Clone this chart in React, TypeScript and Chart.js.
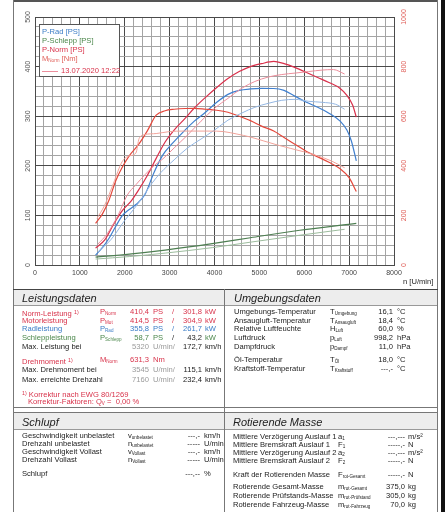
import React, { useEffect, useRef } from "react";
import { Chart, registerables } from "chart.js";

Chart.register(...registerables);

// ---------------- chart data ----------------
const rpmPNormA = [1350, 1550, 1750, 1950, 2150, 2300, 2500, 2700, 2900, 3100, 3350, 3545, 3800, 4050, 4300, 4550, 4800, 5050, 5320, 5550, 5800, 6050, 6300, 6550, 6800, 6950, 7080, 7160];
const psPNormA = [34, 50, 82, 110, 130, 150, 180, 215, 248, 272, 296, 316, 338, 358, 376, 390, 400, 406, 410.4, 406, 398, 388, 378, 368, 356, 342, 322, 298];

const rpmPNormB = [1400, 1600, 1850, 2050, 2250, 2450, 2650, 2850, 3100, 3400, 3700, 4000, 4300, 4600, 4900, 5200, 5500, 5800, 6100, 6400, 6650, 6900];
const psPNormB = [42, 62, 100, 140, 162, 182, 200, 214, 236, 262, 290, 316, 336, 356, 370, 379, 384, 387, 390, 393, 394, 385];

const rpmTorqueA = [1350, 1500, 1650, 1800, 1950, 2100, 2300, 2500, 2700, 2900, 3100, 3350, 3545, 3800, 4050, 4300, 4550, 4800, 5050, 5320, 5550, 5800, 6050, 6300, 6550, 6800, 7000, 7160];
const nmTorqueA = [168, 205, 262, 340, 396, 440, 484, 540, 604, 622, 628, 631, 631.3, 628, 624, 616, 600, 582, 560, 540, 514, 486, 458, 436, 414, 388, 352, 296];

const rpmTorqueB = [1380, 1550, 1750, 1940, 2100, 2250, 2320, 2450, 2700, 3000, 3300, 3600, 3900, 4200, 4500, 4800, 5100, 5400, 5700, 6000, 6300, 6600, 6900];
const nmTorqueB = [188, 240, 330, 416, 440, 452, 510, 526, 530, 538, 540, 540, 540, 538, 528, 516, 500, 484, 470, 456, 440, 420, 392];

const rpmPRadA = [1350, 1500, 1650, 1800, 1950, 2100, 2250, 2450, 2650, 2850, 3050, 3300, 3550, 3800, 4050, 4300, 4550, 4800, 5050, 5320, 5550, 5800, 6050, 6300, 6550, 6800, 6950, 7050, 7160];
const psPRadA = [20, 35, 54, 78, 100, 112, 122, 142, 186, 222, 244, 268, 290, 308, 328, 344, 352, 355, 356, 355.8, 352, 340, 328, 318, 306, 290, 272, 250, 210];

const rpmPRadB = [1400, 1700, 2000, 2300, 2600, 2800, 3100, 3400, 3700, 4000, 4300, 4600, 4900, 5200, 5500, 5800, 6100, 6400, 6700, 6900];
const psPRadB = [26, 52, 90, 124, 164, 186, 212, 236, 254, 272, 292, 306, 318, 326, 332, 334, 330, 328, 324, 314];

const rpmSchleppA = [1350, 2100, 2900, 3950, 4800, 5900, 7160];
const psSchleppA = [16, 22, 30, 43, 55, 70, 84];

const rpmSchleppB = [1350, 2100, 2900, 3950, 4800, 5900, 6900];
const psSchleppB = [12, 17, 24, 35, 46, 60, 72];

const xTickLabels = [0, 1000, 2000, 3000, 4000, 5000, 6000, 7000, 8000];
const yLeftTickLabels = [0, 100, 200, 300, 400, 500];
const yRightTickLabels = [0, 200, 400, 600, 800, 1000];
const X_MINOR_STEP = 200;
const Y_MINOR_STEP = 20;

// ---------------- colours ----------------
const C_RED = "#d9304b";
const C_RED_L = "#ec8e9c";
const C_TQ = "#e4483c";
const C_TQ_L = "#f1a39a";
const C_BLUE = "#3f7fcf";
const C_BLUE_L = "#94b7e3";
const C_GREEN = "#4e7f52";
const C_GREEN_L = "#9cbc9d";
const GRID_MAJOR = "#4a4a4a";
const GRID_MINOR = "#a4a4a4";
const FONT = "'Liberation Sans', Arial, sans-serif";

function DynoChart() {
  const ref = useRef<HTMLCanvasElement>(null);
  useEffect(() => {
    const pts = (xs: number[], ys: number[]) => xs.map((x, i) => ({ x, y: ys[i] }));
    const ds = (label: string, xs: number[], ys: number[], color: string, width: number, axis = "y") => ({
      label,
      data: pts(xs, ys),
      borderColor: color,
      backgroundColor: color,
      borderWidth: width,
      pointRadius: 0,
      cubicInterpolationMode: "monotone" as const,
      yAxisID: axis,
      fill: false,
    });
    const tickFont = { family: FONT, size: 7 };
    const chart = new Chart(ref.current!, {
      type: "line",
      data: {
        datasets: [
          ds("P-Schlepp B", rpmSchleppB, psSchleppB, C_GREEN_L, 1),
          ds("P-Schlepp A", rpmSchleppA, psSchleppA, C_GREEN, 1.2),
          ds("M-Norm B", rpmTorqueB, nmTorqueB, C_TQ_L, 1, "y2"),
          ds("P-Rad B", rpmPRadB, psPRadB, C_BLUE_L, 1),
          ds("P-Norm B", rpmPNormB, psPNormB, C_RED_L, 1),
          ds("M-Norm A", rpmTorqueA, nmTorqueA, C_TQ, 1.2, "y2"),
          ds("P-Rad A", rpmPRadA, psPRadA, C_BLUE, 1.2),
          ds("P-Norm A", rpmPNormA, psPNormA, C_RED, 1.2),
        ],
      },
      options: {
        animation: false,
        responsive: false,
        maintainAspectRatio: false,
        events: [],
        layout: { padding: { top: 17, left: 0, right: 0, bottom: 0 } },
        plugins: { legend: { display: false }, tooltip: { enabled: false } },
        scales: {
          x: {
            type: "linear",
            min: 0,
            max: 8000,
            ticks: {
              stepSize: X_MINOR_STEP,
              autoSkip: false,
              minRotation: 0,
              maxRotation: 0,
              padding: 4,
              color: "#444",
              font: tickFont,
              callback: (v: any) => (xTickLabels.includes(Number(v)) ? String(v) : ""),
            },
            grid: {
              drawTicks: false,
              lineWidth: 1,
              color: (c: any) => (c.tick && xTickLabels.includes(c.tick.value) ? GRID_MAJOR : GRID_MINOR),
            },
            border: { display: true, color: GRID_MAJOR },
            afterFit: (s: any) => {
              s.height = 24;
            },
          },
          y: {
            type: "linear",
            position: "left",
            min: 0,
            max: 500,
            ticks: {
              stepSize: Y_MINOR_STEP,
              autoSkip: false,
              minRotation: 90,
              maxRotation: 90,
              crossAlign: "center",
              padding: 1,
              color: "#555",
              font: tickFont,
              callback: (v: any) => (yLeftTickLabels.includes(Number(v)) ? String(v) : ""),
            },
            grid: {
              drawTicks: false,
              lineWidth: 1,
              color: (c: any) => (c.tick && yLeftTickLabels.includes(c.tick.value) ? GRID_MAJOR : GRID_MINOR),
            },
            border: { display: true, color: GRID_MAJOR },
            afterFit: (s: any) => {
              s.width = 21;
            },
          },
          y2: {
            type: "linear",
            position: "right",
            min: 0,
            max: 1000,
            ticks: {
              stepSize: 200,
              autoSkip: false,
              minRotation: 90,
              maxRotation: 90,
              crossAlign: "center",
              padding: 2,
              color: "#e0605a",
              font: tickFont,
              callback: (v: any) => (yRightTickLabels.includes(Number(v)) ? String(v) : ""),
            },
            grid: { display: false, drawTicks: false },
            border: { display: false },
            afterFit: (s: any) => {
              s.width = 44;
            },
          },
        },
      } as any,
    });
    return () => chart.destroy();
  }, []);
  return (
    <canvas
      ref={ref}
      width={424}
      height={289}
      style={{ position: "absolute", left: 14, top: 0, width: 424, height: 289 }}
    />
  );
}

// ---------------- helpers for text ----------------
type TP = {
  x: number;
  y: number;
  children: any;
  color?: string;
  size?: number;
  align?: "left" | "right";
  italic?: boolean;
};
function T({ x, y, children, color = "#222", size = 7.6, align = "left", italic = false }: TP) {
  const st: any = {
    position: "absolute",
    top: y - size * 0.62,
    fontSize: size,
    lineHeight: `${Math.round(size * 1.25)}px`,
    color,
    whiteSpace: "nowrap",
    fontStyle: italic ? "italic" : "normal",
  };
  if (align === "left") st.left = x;
  else st.right = 445 - x;
  return <div style={st}>{children}</div>;
}
const Sub = ({ s }: { s: string }) => (
  <span style={{ fontSize: "0.6em", verticalAlign: "-0.3em" }}>{s}</span>
);
const Sup = ({ s }: { s: string }) => (
  <span style={{ fontSize: "0.7em", verticalAlign: "0.35em" }}>{s}</span>
);
const Sym = ({ m, s }: { m: string; s: string }) => (
  <span>
    {m}
    <Sub s={s} />
  </span>
);
function Line({ x, y, w, h, c = "#666" }: { x: number; y: number; w: number; h: number; c?: string }) {
  return <div style={{ position: "absolute", left: x, top: y, width: w, height: h, background: c }} />;
}

const RED = "#d8324a";
const BLUE = "#3a7cc6";
const GREEN = "#4b874b";
const GRAY = "#9a9a9a";
const BLK = "#222";

export default function App() {
  const L = { lab: 22, sym: 100, v1: 149, u1: 153, sl: 172, v2: 202, u2: 205 };
  const lRows = [312, 320.5, 329, 337.5, 346.5, 359.5, 369.5, 379.5];
  const U = { lab: 234, sym: 330, v: 393, u: 397 };
  const uRows = [312, 320.5, 329, 338, 347, 359.5, 368.5];
  const S = { lab: 22, sym: 128, v: 200, u: 204 };
  const sRows = [436, 444, 452, 460, 474];
  const R = { lab: 233, sym: 338, v: 405, u: 408 };
  const rRows = [437, 445, 453, 461, 475, 487, 496, 505];
  return (
    <div
      style={{
        position: "absolute",
        left: 0,
        top: 0,
        width: 445,
        height: 512,
        background: "#fff",
        overflow: "hidden",
        fontFamily: FONT,
      }}
    >
      <DynoChart />

      {/* legend */}
      <div
        style={{
          position: "absolute",
          left: 39,
          top: 24,
          width: 79,
          height: 51,
          background: "#fff",
          border: "1px solid #555",
        }}
      />
      <T x={42} y={32} color={BLUE}>P-Rad [PS]</T>
      <T x={42} y={41} color={GREEN}>P-Schlepp [PS]</T>
      <T x={42} y={50} color={RED}>P-Norm [PS]</T>
      <T x={42} y={59} color="#e0605a">
        M<Sub s="Norm" /> [Nm]
      </T>
      <Line x={42} y={71} w={16} h={1} c={C_RED_L} />
      <T x={61} y={71} color={RED}>13.07.2020 12:22</T>
      <T x={403} y={282}>n [U/min]</T>

      {/* frame */}
      <Line x={13} y={0} w={425} h={2} c="#555" />
      <Line x={13} y={0} w={1} h={512} c="#777" />
      <Line x={437} y={0} w={1} h={512} c="#777" />
      <Line x={441} y={0} w={4} h={512} c="#111" />
      <Line x={13} y={289} w={425} h={1} c="#444" />

      {/* header bands */}
      <Line x={14} y={290} w={210} h={15} c="#ededed" />
      <Line x={225} y={290} w={212} h={15} c="#ededed" />
      <Line x={14} y={305} w={210} h={1} c="#999" />
      <Line x={225} y={305} w={212} h={1} c="#999" />
      <Line x={224} y={289} w={1} h={223} c="#777" />
      <Line x={13} y={407} w={425} h={1} c="#777" />
      <Line x={14} y={413} w={210} h={16} c="#ededed" />
      <Line x={225} y={413} w={212} h={16} c="#ededed" />
      <Line x={13} y={412} w={425} h={1} c="#777" />
      <Line x={14} y={429} w={210} h={1} c="#999" />
      <Line x={225} y={429} w={212} h={1} c="#999" />

      {/* Leistungsdaten */}
      <T x={22} y={298} size={11} italic>Leistungsdaten</T>
      <T x={L.lab} y={lRows[0]} color={RED}>Norm-Leistung <Sup s="1)" /></T>
      <T x={L.sym} y={lRows[0]} color={RED}><Sym m="P" s="Norm" /></T>
      <T x={L.v1} y={lRows[0]} color={RED} align="right">410,4</T>
      <T x={L.u1} y={lRows[0]} color={RED}>PS</T>
      <T x={L.sl} y={lRows[0]} color={RED}>/</T>
      <T x={L.v2} y={lRows[0]} color={RED} align="right">301,8</T>
      <T x={L.u2} y={lRows[0]} color={RED}>kW</T>

      <T x={L.lab} y={lRows[1]} color={RED}>Motorleistung</T>
      <T x={L.sym} y={lRows[1]} color={RED}><Sym m="P" s="Mot" /></T>
      <T x={L.v1} y={lRows[1]} color={RED} align="right">414,5</T>
      <T x={L.u1} y={lRows[1]} color={RED}>PS</T>
      <T x={L.sl} y={lRows[1]} color={RED}>/</T>
      <T x={L.v2} y={lRows[1]} color={RED} align="right">304,9</T>
      <T x={L.u2} y={lRows[1]} color={RED}>kW</T>

      <T x={L.lab} y={lRows[2]} color={BLUE}>Radleistung</T>
      <T x={L.sym} y={lRows[2]} color={BLUE}><Sym m="P" s="Rad" /></T>
      <T x={L.v1} y={lRows[2]} color={BLUE} align="right">355,8</T>
      <T x={L.u1} y={lRows[2]} color={BLUE}>PS</T>
      <T x={L.sl} y={lRows[2]} color={BLUE}>/</T>
      <T x={L.v2} y={lRows[2]} color={BLUE} align="right">261,7</T>
      <T x={L.u2} y={lRows[2]} color={BLUE}>kW</T>

      <T x={L.lab} y={lRows[3]} color={GREEN}>Schleppleistung</T>
      <T x={L.sym} y={lRows[3]} color={GREEN}><Sym m="P" s="Schlepp" /></T>
      <T x={L.v1} y={lRows[3]} color={GREEN} align="right">58,7</T>
      <T x={L.u1} y={lRows[3]} color={GREEN}>PS</T>
      <T x={L.sl} y={lRows[3]} color={BLK}>/</T>
      <T x={L.v2} y={lRows[3]} color={BLK} align="right">43,2</T>
      <T x={L.u2} y={lRows[3]} color={GREEN}>kW</T>

      <T x={L.lab} y={lRows[4]} color={BLK}>Max. Leistung bei</T>
      <T x={L.v1} y={lRows[4]} color={GRAY} align="right">5320</T>
      <T x={L.u1} y={lRows[4]} color={GRAY}>U/min/</T>
      <T x={L.v2} y={lRows[4]} color={BLK} align="right">172,7</T>
      <T x={L.u2} y={lRows[4]} color={BLK}>km/h</T>

      <T x={L.lab} y={lRows[5]} color={RED}>Drehmoment <Sup s="1)" /></T>
      <T x={L.sym} y={lRows[5]} color={RED}><Sym m="M" s="Norm" /></T>
      <T x={L.v1} y={lRows[5]} color={RED} align="right">631,3</T>
      <T x={L.u1} y={lRows[5]} color={RED}>Nm</T>

      <T x={L.lab} y={lRows[6]} color={BLK}>Max. Drehmoment bei</T>
      <T x={L.v1} y={lRows[6]} color={GRAY} align="right">3545</T>
      <T x={L.u1} y={lRows[6]} color={GRAY}>U/min/</T>
      <T x={L.v2} y={lRows[6]} color={BLK} align="right">115,1</T>
      <T x={L.u2} y={lRows[6]} color={BLK}>km/h</T>

      <T x={L.lab} y={lRows[7]} color={BLK}>Max. erreichte Drehzahl</T>
      <T x={L.v1} y={lRows[7]} color={GRAY} align="right">7160</T>
      <T x={L.u1} y={lRows[7]} color={GRAY}>U/min/</T>
      <T x={L.v2} y={lRows[7]} color={BLK} align="right">232,4</T>
      <T x={L.u2} y={lRows[7]} color={BLK}>km/h</T>

      <T x={22} y={393} color={RED}><Sup s="1)" /> Korrektur nach EWG 80/1269</T>
      <T x={28} y={401.5} color={RED}>Korrektur-Faktoren: Q<Sub s="V" /> =&nbsp; 0,00 %</T>

      {/* Umgebungsdaten */}
      <T x={234} y={298} size={11} italic>Umgebungsdaten</T>
      {[
        ["Umgebungs-Temperatur", "T", "Umgebung", "16,1", "°C"],
        ["Ansaugluft-Temperatur", "T", "Ansaugluft", "18,4", "°C"],
        ["Relative Luftfeuchte", "H", "Luft", "60,0", "%"],
        ["Luftdruck", "p", "Luft", "998,2", "hPa"],
        ["Dampfdruck", "p", "Dampf", "11,0", "hPa"],
        ["Öl-Temperatur", "T", "Öl", "18,0", "°C"],
        ["Kraftstoff-Temperatur", "T", "Kraftstoff", "---,-", "°C"],
      ].map((r, i) => (
        <React.Fragment key={"u" + i}>
          <T x={U.lab} y={uRows[i]}>{r[0]}</T>
          <T x={U.sym} y={uRows[i]}><Sym m={r[1]} s={r[2]} /></T>
          <T x={U.v} y={uRows[i]} align="right">{r[3]}</T>
          <T x={U.u} y={uRows[i]}>{r[4]}</T>
        </React.Fragment>
      ))}

      {/* Schlupf */}
      <T x={22} y={422} size={11} italic>Schlupf</T>
      {[
        ["Geschwindigkeit unbelastet", "v", "unbelastet", "---,-", "km/h"],
        ["Drehzahl unbelastet", "n", "unbelastet", "-----", "U/min"],
        ["Geschwindigkeit Vollast", "v", "Vollast", "---,-", "km/h"],
        ["Drehzahl Vollast", "n", "Vollast", "-----", "U/min"],
        ["Schlupf", "", "", "---,--", "%"],
      ].map((r, i) => (
        <React.Fragment key={"s" + i}>
          <T x={S.lab} y={sRows[i]}>{r[0]}</T>
          {r[1] ? <T x={S.sym} y={sRows[i]}><Sym m={r[1]} s={r[2]} /></T> : null}
          <T x={S.v} y={sRows[i]} align="right">{r[3]}</T>
          <T x={S.u} y={sRows[i]}>{r[4]}</T>
        </React.Fragment>
      ))}

      {/* Rotierende Masse */}
      <T x={233} y={422} size={11} italic>Rotierende Masse</T>
      {[
        ["Mittlere Verzögerung Auslauf 1", "a", "1", "---,---", "m/s²"],
        ["Mittlere Bremskraft Auslauf 1", "F", "1", "-----,-", "N"],
        ["Mittlere Verzögerung Auslauf 2", "a", "2", "---,---", "m/s²"],
        ["Mittlere Bremskraft Auslauf 2", "F", "2", "-----,-", "N"],
        ["Kraft der Rotierenden Masse", "F", "rot-Gesamt", "-----,-", "N"],
        ["Rotierende Gesamt-Masse", "m", "rot-Gesamt", "375,0", "kg"],
        ["Rotierende Prüfstands-Masse", "m", "rot-Prüfstand", "305,0", "kg"],
        ["Rotierende Fahrzeug-Masse", "m", "rot-Fahrzeug", "70,0", "kg"],
      ].map((r, i) => (
        <React.Fragment key={"r" + i}>
          <T x={R.lab} y={rRows[i]}>{r[0]}</T>
          <T x={R.sym} y={rRows[i]}><Sym m={r[1]} s={r[2]} /></T>
          <T x={R.v} y={rRows[i]} align="right">{r[3]}</T>
          <T x={R.u} y={rRows[i]}>{r[4]}</T>
        </React.Fragment>
      ))}
    </div>
  );
}
